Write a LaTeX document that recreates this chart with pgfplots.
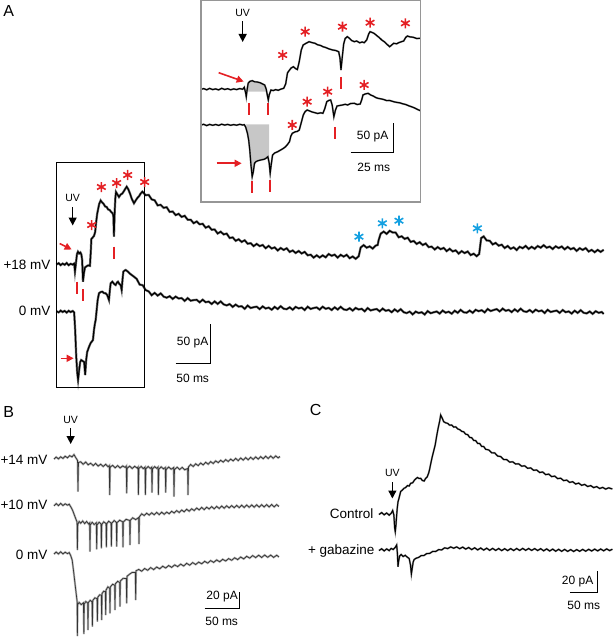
\documentclass[border=0pt]{standalone}
\usepackage{fontspec}
\setmainfont{Liberation Sans}
\usepackage{pgfplots}
\pgfplotsset{compat=1.18}
\usetikzlibrary{arrows.meta}
\definecolor{starred}{RGB}{228,32,36}
\definecolor{starblue}{RGB}{20,160,225}
\definecolor{boxgray}{RGB}{150,150,150}

\begin{document}
\begin{tikzpicture}
\begin{axis}[
    width=613pt, height=639pt, scale only axis,
    xmin=0, xmax=613, ymin=0, ymax=639,
    y dir=reverse,
    hide axis,
    clip=false,
]
\path (axis cs:0,0) rectangle (axis cs:613,639);

% ---------- panel A, inset: grey areas
\addplot[fill=black!22, draw=none] coordinates {
(247.5,91.7) (247.5,83.3) (249,81.5) (251.5,80.7) (254,81.8) (256.5,82.0) (259.3,82.7) (262,84) (264,85) (265.5,89) (266.3,91.7)} --cycle;
\addplot[fill=black!22, draw=none] coordinates {
(245.5,124.5) (246.8,133.3) (248,140) (249.1,150) (250.3,165) (251.5,176.7) (252.6,172) (253.8,163.3) (255.5,161.5) (257.4,160.7) (260,160) (263.3,159.3) (265,158.5) (267.2,156.7) (268.4,160) (268.4,124.5)} --cycle;

% inset traces
\addplot[black, line width=1.1pt, preaction={draw, black!45, line width=1.8pt}] coordinates {
(200.4,89.3) (203,88.6) (206,89.8) (209,88.4) (212,89.6) (215,88.9) (218,89.9) (221,88.3) (224,89.5) (227,88.7) (230,89.8) (233,88.9) (236,89.6) (239,88.6) (242,89.2) (243.6,87.3) (245,93) (245.6,96.7) (246.4,90) (247.5,83.3) (249,81.5) (251.5,80.7) (254,81.8) (256.5,82.0) (259.3,82.7) (262,84) (264,85) (265.5,89) (267,97) (267.6,100) (268.5,95) (270.3,90) (272.5,90.6) (275,89.6) (277.5,90.3) (280,89.2) (283,88.3) (285,84) (286.8,73) (288.5,70.5) (290.5,68) (292.7,66.7) (294.7,68.5) (296.7,69.5) (298.5,62) (300.6,50) (302.5,45) (305,43.5) (308.4,41.7) (311,42.5) (314.3,43.3) (317,44.8) (320,45.5) (322.2,46.7) (325,47.5) (328,48.8) (332,50) (335,50.5) (338,51.7) (339.3,58) (340.3,70) (341.5,58) (343,44) (344.5,38.5) (346.6,36.7) (349,38.5) (351,40.5) (353.6,41.7) (356,41) (359,42.8) (361.5,42) (363.5,42.7) (366,40) (368,34) (369.4,31.7) (371.5,32.5) (373.3,33.3) (376,35.5) (378.5,37.5) (381.1,40) (384,42) (386.5,44.5) (389,46.7) (391,45) (393,43.3) (396,43.8) (398.5,42.5) (400.8,41.7) (403,41) (405,37.5) (406.7,36) (409,36.8) (412.6,37.3) (416,38.5) (419.6,38.3)};
\addplot[black, line width=1.1pt, preaction={draw, black!45, line width=1.8pt}] coordinates {
(200.4,125) (203,124.3) (206,125.6) (209,124.4) (212,125.3) (215,124.5) (218,125.4) (221,124.2) (224,125.1) (227,124.4) (230,125.3) (233,124.6) (236,125.2) (239,124.3) (242,125.0) (243.6,124.7) (245,127) (246.8,133.3) (248,140) (249.1,150) (250.3,165) (251.5,176.7) (252.6,172) (253.8,163.3) (255.5,161.5) (257.4,160.7) (260,160) (263.3,159.3) (265,158.5) (267.2,156.7) (268.5,163) (269.5,173.3) (270.5,165) (271.9,155) (274,153) (277,151.7) (280,150) (282.5,148.5) (284.9,146.7) (286.8,144.5) (288.8,141.7) (290.2,136) (291.6,133.3) (294.7,131.7) (296.5,131.5) (298.6,130) (300.5,123) (302.6,115) (304.5,111.5) (306.5,110) (309,111) (311.5,112) (314.3,112.7) (317,113.5) (320,112.8) (322.2,113.3) (324,109) (326.1,101.7) (328,100.5) (330,100) (331.5,105) (333.2,116.7) (334.8,110) (336.4,106) (339,105.5) (341.8,105) (344.5,104.3) (347,105) (350,103.5) (353.6,103.3) (356.5,104.5) (359.5,104) (361,100) (362.3,95) (364.5,94) (367.4,93.3) (370,95) (372.5,96) (375,97.5) (377.2,98.3) (380,98.8) (383,99.5) (386,100.6) (389,100.5) (393,101.7) (396,102.4) (399,102.8) (402,103.8) (405,104.5) (408.6,106) (411,106.8) (414,108) (417,109.5) (419.6,110.7)};

% ---------- panel A, main traces
\addplot[black, line width=1.2pt, preaction={draw, black!55, line width=2.3pt}] coordinates {
(55.7,264.5) (58,263.2) (60,265.1) (62,263.6) (64,264.8) (66,263.0) (68,265.2) (70,263.8) (72,264.6) (73.5,263.5) (74.3,271.7) (75.3,263) (76.3,254) (77.3,251.7) (78.5,253.5) (79.7,252.5) (80.7,254.5) (81.5,260) (82.3,281.7) (83.3,273) (84.3,267.5) (86,266.2) (87.5,265.4) (89.3,265.8) (90.2,250) (90.7,239) (92,237.5) (93.3,236) (94.5,232) (95.5,222) (96.5,214) (97.5,209) (98.5,204) (100,200.5) (101.5,202.5) (103,204) (104.5,206.5) (106,207) (107.5,209.5) (109,210) (110.5,212) (112,213.5) (112.7,216) (113.3,236.7) (114,212) (114.7,198) (115.3,192) (116.5,194) (118.3,197) (120,194.5) (121.7,193.5) (123,191.5) (124.5,189) (126,186.7) (127.5,189) (129.3,193.5) (131,198.5) (133.3,203.3) (135,200.5) (136.7,198) (138.5,196) (140,193.5) (141.7,191.7) (143,193)
(145,195.2) (148,194.9) (151,199.4) (154,200.3) (157,205.4) (160,204.8) (163,207.8) (166,207.2) (169,211.9) (172,211.5) (175,215.1) (178,213.8) (181,216.9) (184,215.8) (187,219.7) (190,219.7) (193,223.2) (196,221.5) (199,224.3) (202,223.8) (205,227.7) (208,226.3) (211,229.7) (214,229.5) (217,233.5) (220,231.7) (223,234.4) (226,233.6) (229,238.0) (232,237.4) (235,240.8) (238,239.3) (241,241.9) (244,240.3) (247,243.7) (250,243.2) (253,246.1) (256,243.9) (259,246.1) (262,245.0) (265,248.2) (268,245.9) (271,248.5) (274,247.4) (277,250.5) (280,248.0) (283,249.9) (286,248.3) (289,251.9) (292,250.5) (295,253.0) (298,251.0) (301,253.5) (304,251.9) (307,255.3) (310,254.7) (313,257.6) (316,255.3) (319,257.5) (322,255.4) (325,257.3) (328,254.0) (331,255.8) (334,254.6) (337,257.6) (340,254.8) (343,256.6) (346,254.8) (349,258.2) (352,256.5) (355,258.8) (358,256.3) (359,252) (360,247.5) (363,245.1) (366,247.7) (369,246.4) (372,248.6) (375,245.6) (377,245) (378,240) (380,233.7) (383,231.6) (386,233.9) (389,230.8) (392,232.5) (395,232.6) (398,237.3) (401,236.3) (404,238.9) (407,237.7) (410,241.9) (413,241.0) (416,243.9) (419,242.2) (422,245.0) (425,243.5) (428,247.1) (431,246.6) (434,249.5) (437,247.1) (440,249.2) (443,247.9) (446,251.1) (449,248.8) (452,251.4) (455,250.4) (458,253.6) (461,251.1) (464,253.1) (467,251.5) (470,255.1) (473,253.7) (476,256.2) (478.5,254.0) (479.5,246) (480.5,238.1) (483,236.4) (486,240.5) (489,240.7) (492,244.4) (495,242.9) (498,245.7) (501,244.7) (504,248.0) (507,246.0) (510,248.8) (513,247.4) (516,250.0) (519,246.8) (522,248.2) (525,245.9) (528,248.9) (531,246.8) (534,248.8) (537,246.0) (540,247.7) (543,245.2) (546,247.7) (549,246.6) (552,249.0) (555,246.3) (558,248.0) (561,246.5) (564,249.3) (567,246.9) (570,249.2) (573,248.0) (576,250.9) (579,248.2) (582,249.9) (585,248.1) (588,251.5) (591,249.9) (594,252.2) (597,249.9) (600,251.9) (603,249.8)};
\addplot[black, line width=1.2pt, preaction={draw, black!55, line width=2.3pt}] coordinates {
(55.7,311.2) (58,312.4) (60,310.6) (62,312.0) (64,310.9) (66,312.6) (68,310.8) (70,312.1) (72,311.0) (73.5,312.5) (74.5,330) (75.5,355) (76.5,372) (77.4,380) (78.5,370) (79.5,362) (80.5,360) (82,361) (83.5,362) (84.5,375) (85.5,360) (86.5,352) (88.4,346.7) (90,343) (92.3,340) (93.3,330) (94.3,323.3) (95,320) (96,310) (97,300) (98.3,293.3) (100,292) (101.7,291.7) (103,293) (105,293.3) (106.5,295) (108.3,300) (109.2,290) (110,283.3) (111.7,281.7) (113.5,284) (115,285) (116.3,282.5) (117.3,281.7) (118.7,284) (120,285) (121,290) (122,278) (122.7,271.7) (124,270.5) (125,270) (127,271.5) (129,273.5) (131,275) (133.3,276.7)
(136,278.9) (139,284.6) (142,285.2) (145,290.1) (148,291.4) (151,295.2) (154,292.9) (157,295.6) (160,293.4) (163,296.6) (166,297.7) (169,296.2) (172,298.9) (175,296.6) (178,298.5) (181,298.1) (184,300.9) (187,298.1) (190,300.7) (193,300.1) (196,299.8) (199,302.3) (202,299.7) (205,302.2) (208,301.6) (211,304.0) (214,301.4) (217,303.9) (220,301.4) (223,304.4) (226,305.4) (229,304.1) (232,306.9) (235,304.6) (238,306.6) (241,306.2) (244,308.8) (247,305.6) (250,308.0) (253,307.2) (256,306.7) (259,309.1) (262,306.4) (265,308.5) (268,307.6) (271,309.7) (274,306.9) (277,309.0) (280,306.2) (283,308.7) (286,309.2) (289,307.3) (292,309.7) (295,306.9) (298,308.4) (301,307.6) (304,310.0) (307,306.7) (310,308.9) (313,308.0) (316,307.4) (319,309.6) (322,306.7) (325,308.8) (328,307.9) (331,310.0) (334,307.3) (337,309.5) (340,306.8) (343,309.4) (346,310.0) (349,308.2) (352,310.6) (355,307.9) (358,309.5) (361,308.8) (364,311.3) (367,308.1) (370,310.4) (373,309.6) (376,309.0) (379,311.3) (382,308.6) (385,310.8) (388,310.0) (391,312.2) (394,309.4) (397,311.6) (400,309.2) (403,312.2) (406,313.1) (409,311.6) (412,314.4) (415,311.6) (418,313.0) (421,312.2) (424,314.5) (427,311.1) (430,313.2) (433,312.3) (436,311.5) (439,313.6) (442,310.6) (445,312.7) (448,311.7) (451,313.7) (454,310.7) (457,312.8) (460,309.9) (463,312.3) (466,312.7) (469,310.6) (472,312.8) (475,309.8) (478,311.2) (481,310.2) (484,312.4) (487,309.0) (490,311.0) (493,310.0) (496,309.1) (499,311.4) (502,308.6) (505,310.8) (508,309.9) (511,312.1) (514,309.3) (517,311.5) (520,308.7) (523,311.3) (526,311.9) (529,310.0) (532,312.4) (535,309.7) (538,311.3) (541,310.5) (544,313.0) (547,309.8) (550,312.0) (553,311.2) (556,310.6) (559,312.9) (562,310.0) (565,312.2) (568,311.4) (571,313.6) (574,310.7) (577,312.9) (580,310.2) (583,312.8) (586,313.4) (589,311.5) (592,313.9) (595,311.2) (598,312.8) (601,312.0) (603,313.9)};

% red bars under the transient inward currents
\addplot[only marks, mark=|, mark size=6pt, mark options={starred, line width=2pt}] coordinates {
(248.7,109) (267.6,109) (340.3,83) (334,133) (251.5,186.5) (269.5,186) (76.7,287.5) (82.7,295) (113.3,252.5)};
% asterisks
\addplot[only marks, mark=asterisk, mark size=5pt, mark options={starred, line width=1.6pt}] coordinates {
(282,55) (304.5,31.7) (341.8,26.7) (369.4,22.7) (404.7,23.3) (291.6,125) (306.5,101.7) (327,91.7) (363.5,85)
(91,225) (100.7,187) (116,183) (127,175) (144,182)};
\addplot[only marks, mark=asterisk, mark size=5pt, mark options={starblue, line width=1.6pt}] coordinates {
(358.3,236.7) (381.7,223.3) (398.3,220.7) (476.7,228.3)};

% boxes
\draw[boxgray, line width=1.2pt] (axis cs:200.4,0.6) rectangle (axis cs:419.6,202);
\draw[black, line width=0.6pt] (axis cs:56,162) rectangle (axis cs:144,387);

% ---------- panel B
\addplot[black!80, line width=0.7pt, preaction={draw, black!30, line width=2pt}] coordinates {
(53.3,459.2) (55.5,457.0) (57.8,458.9) (60,456.8) (62.3,458.4) (64.5,456.2) (66.8,457.8) (69,455.6) (71.3,456.9) (73.3,454.6) (75,457.5) (76.9,460.5) (77.3,491.7) (77.8,462.5) (80,461.8) (82.5,464.3) (85,462.0) (87.5,464.8) (90,463.2) (92.5,465.6) (95,463.4) (97.5,466.1) (100,464.2) (102.5,466.5) (105,464.3) (107.5,466.8) (108.7,465.5) (109,495) (109.5,467) (112,465.4) (114.5,467.8) (117,465.6) (119.5,468) (122,465.9) (124.5,467.4) (125.7,466) (126,493.3) (126.5,468.2) (129,466.1) (131.5,468.5) (134,466.3) (136.5,468.1) (137.4,467) (137.7,495) (138.2,468.5) (140.5,466.4) (142.5,468.6) (144.4,467) (144.7,495) (145.2,468.8) (147.5,466.5) (149.5,468.4) (151,467.2) (151.3,492.7) (151.8,469) (154,466.6) (156,468.3) (157.4,467) (157.7,495) (158.2,469.2) (160.5,466.8) (162.8,468.9) (164.7,467.4) (165,492.7) (165.5,469.4) (168,467) (170.5,469.2) (173,467.5) (173.3,496.7) (173.8,469.6) (176.5,467.2) (179,469.5) (181.5,467.4) (184,469.8) (187,468.5) (187.3,495) (187.8,467) (190,464.5) (192.5,466.5) (195,463.8) (197.5,465.6) (200,463) (202.5,464.9) (205,462.3) (207.5,464.2) (210,461.6) (212.5,463.5) (215,460.9) (217.5,462.6) (220,460.3) (222.5,462.1) (225,459.6) (227.5,461.5) (230,459.1) (232.5,460.9) (235,458.4) (237.5,460.6) (240,458.0) (242.5,460.1) (245,457.6) (247.5,459.8) (250,457.3) (252.5,459.4) (255,456.9) (257.5,459.1) (260,456.6) (262.5,458.7) (265,456.2) (267.5,458.5) (270,456.0) (272.5,458.3) (275,455.9) (277.5,457.9) (279.3,456.5)};
\addplot[black!80, line width=0.7pt, preaction={draw, black!30, line width=2pt}] coordinates {
(53.3,505.8) (55.5,503.6) (57.8,505.6) (60,503.4) (62.3,505.5) (64.5,503.8) (66.8,505.2) (68.5,504.2) (70.5,507.5) (72,510.5) (73.5,514.5) (75,518.5) (76.4,522) (76.7,550) (77.1,524.5) (78.5,521.5) (80,523.2) (82,521) (84,523.6) (86,521.5) (88,524.1) (89,523) (89.3,551.7) (89.7,524.8) (91.5,522.3) (93.5,524.5) (95.7,522.6) (96,549.3) (96.4,524.8) (98.5,522.2) (100.4,524) (100.7,548.3) (101.1,524.6) (103,521.8) (105.4,523.6) (105.7,547.3) (106.1,523.8) (108,521.2) (110.4,523) (110.7,546.7) (111.1,523.2) (113.5,520.5) (115.7,522.4) (116,546.7) (116.4,522.6) (119,520.2) (122,521.8) (122.3,547.3) (122.7,521.9) (125.5,519.3) (129,520.5) (129.3,545) (129.7,520.2) (132,517.8) (135,519.6) (138,517.5) (138.3,544) (138.7,516.8) (141,513.8) (143.5,515.5) (146,513.2) (148.5,515.1) (151,512.8) (153.5,514.7) (156,512.4) (158.5,514.6) (161,512.2) (163.5,514.3) (166,512.1) (168.5,513.7) (171,511.3) (173.5,513.0) (176,510.6) (178.5,512.5) (181,510.0) (183.5,511.8) (186,509.3) (188.5,511.2) (191,508.8) (193.5,510.5) (196,508.0) (198.5,509.9) (201,507.4) (203.5,509.6) (206,507.2) (208.5,509.0) (211,506.6) (213.5,508.8) (216,506.4) (218.5,508.5) (221,506.0) (223.5,508.2) (226,505.8) (228.5,507.9) (231,505.6) (233.5,507.7) (236,505.4) (238.5,507.6) (241,505.2) (243.5,507.5) (246,505.0) (248.5,507.3) (251,504.9) (253.5,507.2) (256,504.8) (258.5,507.1) (261,504.7) (263.5,507.0) (266,504.6) (268.5,507.0) (271,504.5) (273.5,506.9) (276,504.6) (278.3,506.5)};
\addplot[black!80, line width=0.7pt, preaction={draw, black!30, line width=2pt}] coordinates {
(53.3,554.1) (55.5,552.0) (57.8,554.0) (60,551.8) (62.3,553.9) (64.5,552.2) (66.8,553.6) (68.5,552.6) (70,555.5) (71.5,560) (73,572) (74.5,585) (75.8,596) (76.5,602) (76.7,636) (77.0,604.5) (78.5,602.5) (80.5,604.6) (82.8,602.8) (83.2,634) (83.6,604) (85.2,601.5) (87,603) (87.3,630) (87.7,602.5) (89.5,600.3) (91.4,601.8) (91.7,626.7) (92.1,600.5) (94.2,597.8) (96.4,598.8) (96.7,621.7) (97.1,597.2) (99,594.8) (100.7,595.2) (101,620) (101.4,593.5) (103,591.2) (104.7,591.6) (105,615) (105.4,590) (107.2,586.8) (109,588.2) (109.3,613.3) (109.7,586.9) (112,584.2) (114,585.2) (114.3,610) (114.7,583.8) (117,581.3) (119,582.4) (119.3,606.7) (119.7,581) (122.5,578.3) (125.7,578.6) (126,603.3) (126.4,576.2) (129,574.1) (131.5,572.4) (134.7,572.5) (135,600) (135.4,570.8) (138,569.4) (141,571.2) (144,568.5) (147,570.3) (150,567.6) (153,569.6) (156,567.0) (159,568.8) (162,566.2) (165,568.0) (168,565.5) (171,567.4) (174,564.9) (177,566.6) (180,564.1) (183,566.0) (186,563.3) (189,565.2) (192,562.6) (195,564.5) (198,562.1) (201,563.8) (204,561.3) (207,563.1) (210,560.6) (213,562.4) (216,559.9) (219,561.8) (222,559.3) (225,561.0) (228,558.6) (231,560.3) (234,557.8) (237,559.6) (240,557.0) (243,558.9) (246,556.3) (249,558.1) (252,555.6) (255,557.6) (258,555.2) (261,557.5) (264,555.0) (267,557.3) (270,555.1) (273,557.4) (276,555.2) (278.3,557.0)};

% ---------- panel C
\addplot[black, line width=1.0pt, preaction={draw, black!45, line width=1.8pt}] coordinates {
(378.3,514.5) (381,512.6) (383.5,514.8) (386,513.0) (388.5,515.2) (390.5,513.3) (392,510.5) (393.2,515) (394,528) (394.6,531.7) (395.3,525) (396,515) (396.6,508) (397.3,502) (398.3,498.3) (400,491.5) (401.5,490.2) (403.3,488.3) (405,487.5) (406.8,485.6) (408.5,486) (410,483.3) (412,482.8) (414,479.8) (416.7,477.5) (418.5,478.5) (420,478.3) (421.7,480.5) (423.5,481) (425,478.3) (426.5,477) (428,473) (429,469) (430,464) (431.5,457) (433,451) (434.5,445) (436,436) (437.5,428) (439,421) (440,415) (441.5,418) (443,421.7) (445,422.8) (447,423.4) (449,425.2) (451,425.0) (453,427.1) (455,426.8) (457,428.9) (459,429.6) (461,431.3) (463,431.8) (465,434.2) (467,434.6) (469,437.4) (471,437.7) (473,440.4) (475,440.6) (477,443.4) (479,443.5) (481,446.4) (483,446.5) (485,449.3) (488,449.9) (491,452.8) (494,452.9) (497,456.1) (500,456.5) (503,459.5) (506,459.6) (509,462.1) (512,461.8) (515,464.0) (518,463.8) (521,466.2) (524,465.8) (527,468.3) (530,467.9) (533,470.3) (536,470.0) (539,472.5) (542,472.0) (545,474.6) (548,474.1) (551,476.6) (554,476.1) (557,478.6) (560,478.2) (563,480.6) (566,480.1) (569,482.4) (572,481.7) (575,484.0) (578,483.1) (581,485.3) (584,484.4) (587,486.5) (590,485.6) (593,487.6) (596,486.6) (599,488.5) (602,487.4) (605,489.1) (608,487.8) (611.7,489.0)};
\addplot[black, line width=1.0pt, preaction={draw, black!45, line width=1.8pt}] coordinates {
(378.3,550.5) (381,548.8) (383.5,550.9) (386,548.9) (388.5,550.6) (390.5,548.4) (392.5,549.5) (394.5,547.5) (396,545) (396.7,553) (397.3,566.7) (398,561) (399,556) (400.5,554.5) (402.5,556.5) (404.5,555.3) (406.7,557.2) (408.5,558.5) (409.8,565) (410.7,574) (411.6,568) (412.5,562) (413.5,559.5) (415.5,558.2) (418,557.4) (420.5,555.6) (423.3,555.5) (426,553.6) (429,553.4) (432,551.4) (435,551.5) (438,549.6) (441,549.9) (444,547.8) (447,548.6) (450,546.9) (453,548.2) (456,546.9) (459,548.7) (462,547.1) (465,549.1) (468,547.5) (471,549.6) (474,547.8) (477,549.9) (480,548.0) (483,550.1) (486,548.2) (489,550.3) (492,548.4) (495,550.4) (498,548.5) (501,550.6) (504,548.7) (507,550.6) (510,548.6) (513,550.5) (516,548.5) (519,550.4) (522,548.4) (525,550.3) (528,548.5) (531,550.4) (534,548.6) (537,550.5) (540,548.7) (543,550.8) (546,548.9) (549,551.0) (552,549.1) (555,551.2) (558,549.3) (561,551.3) (564,549.4) (567,551.4) (570,549.6) (573,551.5) (576,549.6) (579,551.3) (582,549.4) (585,551.2) (588,549.3) (591,551.0) (594,549.1) (597,550.9) (600,549.0) (603,550.8) (606,548.9) (609,550.6) (611.7,549.2)};

% ---------- scale bars
\draw[black, line width=0.7pt] (axis cs:175,363) -- (axis cs:210,363) -- (axis cs:210,324);
\draw[black, line width=0.7pt] (axis cs:350,152.7) -- (axis cs:393,152.7) -- (axis cs:393,122.7);
\draw[black, line width=0.7pt] (axis cs:204,608.3) -- (axis cs:238.3,608.3) -- (axis cs:238.3,591.7);
\draw[black, line width=0.7pt] (axis cs:569.3,592.7) -- (axis cs:596.7,592.7) -- (axis cs:596.7,570.7);

% ---------- arrows
\draw[black, line width=1.3pt, -{Triangle[width=8pt,length=8pt]}] (axis cs:242,21.5) -- (axis cs:242,42);
\draw[black, line width=1.3pt, -{Triangle[width=8pt,length=8pt]}] (axis cs:72,207) -- (axis cs:72,225.5);
\draw[black, line width=1.3pt, -{Triangle[width=8pt,length=8pt]}] (axis cs:70,428) -- (axis cs:70,444);
\draw[black, line width=1.3pt, -{Triangle[width=8pt,length=8pt]}] (axis cs:391.7,482) -- (axis cs:391.7,498.5);
\draw[starred, line width=1.6pt, -{Triangle[width=7pt,length=7pt]}] (axis cs:218,72.7) -- (axis cs:243,81.5);
\draw[starred, line width=1.6pt, -{Triangle[width=7pt,length=7pt]}] (axis cs:216,163.3) -- (axis cs:241,163.3);
\draw[starred, line width=1.6pt, -{Triangle[width=7pt,length=7pt]}] (axis cs:59,243.5) -- (axis cs:71,249.5);
\draw[starred, line width=1.6pt, -{Triangle[width=7pt,length=7pt]}] (axis cs:60,358.3) -- (axis cs:73,358.3);

% ---------- text
\node[font=\fontsize{16}{18}\selectfont] at (axis cs:8,11) {A};
\node[font=\fontsize{16}{18}\selectfont] at (axis cs:8,412) {B};
\node[font=\fontsize{16}{18}\selectfont] at (axis cs:315,410) {C};
\node[font=\fontsize{10.5}{12}\selectfont] at (axis cs:242,13.3) {UV};
\node[font=\fontsize{10.5}{12}\selectfont] at (axis cs:72,198) {UV};
\node[font=\fontsize{10.5}{12}\selectfont] at (axis cs:70,420) {UV};
\node[font=\fontsize{10.5}{12}\selectfont] at (axis cs:391.7,473.3) {UV};
\node[font=\fontsize{13.5}{16}\selectfont, anchor=east, inner sep=0pt] at (axis cs:50,265) {+18 mV};
\node[font=\fontsize{13.5}{16}\selectfont, anchor=east, inner sep=0pt] at (axis cs:50,311) {0 mV};
\node[font=\fontsize{13.5}{16}\selectfont, anchor=east, inner sep=0pt] at (axis cs:47,460) {+14 mV};
\node[font=\fontsize{13.5}{16}\selectfont, anchor=east, inner sep=0pt] at (axis cs:47,505) {+10 mV};
\node[font=\fontsize{13.5}{16}\selectfont, anchor=east, inner sep=0pt] at (axis cs:47,555) {0 mV};
\node[font=\fontsize{13.5}{16}\selectfont, anchor=east, inner sep=0pt] at (axis cs:373,513.3) {Control};
\node[font=\fontsize{13.5}{16}\selectfont, anchor=east, inner sep=0pt] at (axis cs:374,551) {+ gabazine};
\node[font=\fontsize{12}{14}\selectfont] at (axis cs:192,343) {50 pA};
\node[font=\fontsize{12}{14}\selectfont] at (axis cs:192,378) {50 ms};
\node[font=\fontsize{12}{14}\selectfont] at (axis cs:372,137) {50 pA};
\node[font=\fontsize{12}{14}\selectfont] at (axis cs:373,167) {25 ms};
\node[font=\fontsize{12}{14}\selectfont] at (axis cs:221.5,596.7) {20 pA};
\node[font=\fontsize{12}{14}\selectfont] at (axis cs:221,621.7) {50 ms};
\node[font=\fontsize{12}{14}\selectfont] at (axis cs:577,581.7) {20 pA};
\node[font=\fontsize{12}{14}\selectfont] at (axis cs:583,605) {50 ms};
\end{axis}
\end{tikzpicture}
\end{document}
